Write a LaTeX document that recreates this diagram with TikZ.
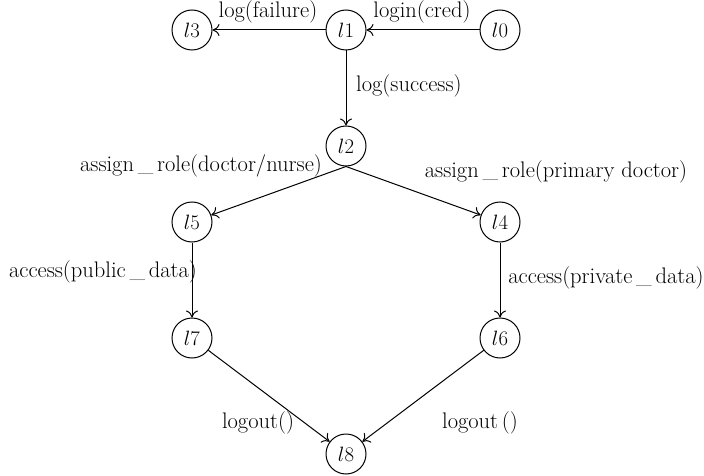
\documentclass[tikz,border=0pt]{standalone}
\usetikzlibrary{arrows.meta}
\begin{document}
\begin{tikzpicture}[x=1pt,y=-1pt,
  state/.style={circle,draw,line width=1pt,minimum size=40pt,inner sep=0pt,font=\fontsize{22.5}{27}\selectfont},
  trans/.style={line width=1pt,-{To[length=7pt,width=12pt]}},
  lbl/.style={font=\fontsize{22.5}{27}\selectfont,inner sep=0pt}]
  \useasboundingbox (0,0) rectangle (704,476);
  % states
  \node[state] (l3) at (192,30) {$l3$};
  \node[state] (l1) at (346,30) {$l1$};
  \node[state] (l0) at (500,30) {$l0$};
  \node[state] (l2) at (346,146) {$l2$};
  \node[state] (l5) at (192,222) {$l5$};
  \node[state] (l4) at (500,222) {$l4$};
  \node[state] (l7) at (192,338) {$l7$};
  \node[state] (l6) at (500,338) {$l6$};
  \node[state] (l8) at (346,454) {$l8$};
  % transitions
  \draw[trans] (l0) -- (l1);
  \draw[trans] (l1) -- (l3);
  \draw[trans] (l1) -- (l2);
  \draw[trans] (l2.south) -- (l5);
  \draw[trans] (l2.south) -- (l4);
  \draw[trans] (l5) -- (l7);
  \draw[trans] (l4) -- (l6);
  \draw[trans] (l7) -- (l8);
  \draw[trans] (l6) -- (l8);
  % transition labels
  \node[lbl] (tfail) at (268,12) {log(failure)};
  \node[lbl] (tlogin) at (422,12) {login(cred)};
  \node[lbl,anchor=west] (tsucc) at (356,86) {log(success)};
  \node[lbl] (tdn) at (201,166) {assign\,\_\,role(doctor/nurse)};
  \node[lbl] (tpd) at (556,172) {assign\,\_\,role(primary doctor)};
  \node[lbl] (tpub) at (103,272) {access(public\,\_\,data)};
  \node[lbl] (tpriv) at (606,278) {access(private\,\_\,data)};
  \node[lbl] (tout1) at (258,423) {logout()};
  \node[lbl] (tout2) at (480,423) {logout\,()};
\end{tikzpicture}
\end{document}
